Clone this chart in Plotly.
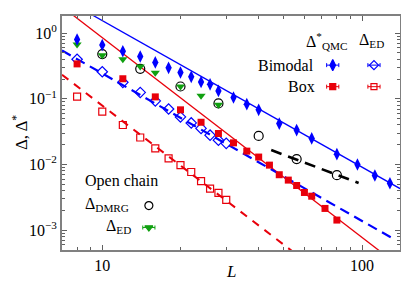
import numpy as np
import plotly.graph_objects as go

# ---------------- data ----------------
L_bim_qmc = [8, 10, 12, 14, 16, 18, 20, 22, 24, 26, 28, 32, 36, 40, 48, 56, 64, 80, 96, 112, 128]
D_bim_qmc = [0.80, 0.66, 0.53, 0.44, 0.358, 0.296, 0.252, 0.216, 0.18, 0.166, 0.132, 0.105,
             0.083, 0.068, 0.042, 0.0334, 0.025, 0.0144, 0.010, 0.0068, 0.0052]

L_bim_ed = [8, 10, 12, 14, 16, 18, 20, 22, 24, 26, 28, 30]
D_bim_ed = [0.40, 0.258, 0.178, 0.125, 0.093, 0.070, 0.053, 0.043, 0.0355, 0.028, 0.0235, 0.021]

L_box_qmc = [8, 12, 16, 20, 24, 28, 32, 36, 40, 44, 48, 52, 56, 60, 64, 72, 80]
D_box_qmc = [0.34, 0.202, 0.107, 0.068, 0.044, 0.0297, 0.0214, 0.016, 0.013, 0.0098, 0.0070,
             0.0058, 0.0048, 0.00376, 0.0033, 0.00215, 0.00143]

L_box_ed = [8, 10, 12, 14, 16, 18, 20, 22, 24, 26, 28, 30]
D_box_ed = [0.108, 0.064, 0.040, 0.0258, 0.0176, 0.0124, 0.0098, 0.0077, 0.0056, 0.0043, 0.0037, 0.0029]

L_dmrg = [10, 14, 20, 28, 40, 56, 80]
D_dmrg = [0.48, 0.286, 0.154, 0.085, 0.0273, 0.0121, 0.0069]

L_open_ed = [8, 10, 12, 14, 16, 20, 24, 28]
D_open_ed = [0.67, 0.46, 0.40, 0.31, 0.25, 0.154, 0.111, 0.081]

# power-law fits  Delta = A * L^(-b), drawn over [Lmin, Lmax]
fit_bim_qmc = dict(A=263.0, b=2.23, Lmin=7, Lmax=140)
fit_box_qmc = dict(A=935.0, b=3.04, Lmin=7, Lmax=140)
fit_bim_ed = dict(A=42.8, b=2.245, Lmin=7, Lmax=130)
fit_box_ed = dict(A=84.5, b=3.03, Lmin=7, Lmax=140)
fit_dmrg = dict(A=4.78, b=1.49, Lmin=44.7, Lmax=97)

y_tickvals = [1, 0.1, 0.01, 0.001]
y_ticktext = ["10<sup>0</sup>", "10<sup>−1</sup>", "10<sup>−2</sup>", "10<sup>−3</sup>"]
x_tickvals = [10, 100]
x_ticktext = ["10", "100"]

BLUE = "#0000ff"
RED = "#e8000b"
GREEN = "#10a010"
FONT = "Liberation Serif"
FS = 16

fig = go.Figure()


def fit_line(p, color, dash, width):
    Ls = np.logspace(np.log10(p["Lmin"]), np.log10(p["Lmax"]), 60)
    fig.add_trace(go.Scatter(x=Ls, y=p["A"] * Ls ** (-p["b"]), mode="lines",
                             line=dict(color=color, dash=dash, width=width),
                             showlegend=False, hoverinfo="skip"))


fit_line(fit_bim_qmc, BLUE, "solid", 1.3)
fit_line(fit_box_qmc, RED, "solid", 1.3)
fit_line(fit_bim_ed, BLUE, "10px,6px", 2.2)
fit_line(fit_box_ed, RED, "8px,7px", 2.0)
fit_line(fit_dmrg, "black", "11px,7px", 2.6)

mk = dict(mode="markers", showlegend=False)
fig.add_trace(go.Scatter(x=L_dmrg, y=D_dmrg, marker=dict(symbol="circle-open", size=9,
                         color="black", line=dict(width=1.2)), **mk))
fig.add_trace(go.Scatter(x=L_open_ed, y=D_open_ed, marker=dict(symbol="triangle-down", size=8,
                         color=GREEN, line=dict(width=0)), **mk))
fig.add_trace(go.Scatter(x=L_box_ed, y=D_box_ed, marker=dict(symbol="square-open", size=7,
                         color=RED, line=dict(width=1.2)), **mk))
fig.add_trace(go.Scatter(x=L_bim_ed, y=D_bim_ed, marker=dict(symbol="diamond-open", size=8,
                         color=BLUE, line=dict(width=1.2)), **mk))
fig.add_trace(go.Scatter(x=L_box_qmc, y=D_box_qmc, marker=dict(symbol="square", size=7,
                         color=RED, line=dict(width=0)), **mk))
fig.add_trace(go.Scatter(x=L_bim_qmc, y=D_bim_qmc, marker=dict(symbol="diamond-tall", size=9,
                         color=BLUE, line=dict(width=0)), **mk))

# ---- legend glyphs on an overlay axis (fractions of the plot area) ----
def leg(x, y, symbol, color, size, err=True):
    fig.add_trace(go.Scatter(
        x=[x], y=[y], xaxis="x2", yaxis="y2", mode="markers", showlegend=False,
        marker=dict(symbol=symbol, size=size, color=color, line=dict(width=1.2, color=color)),
        error_x=dict(type="constant", value=0.018, color=color, thickness=1, width=2) if err else None,
        hoverinfo="skip"))


leg(0.801, 0.790, "diamond-tall", BLUE, 8)
leg(0.923, 0.790, "diamond-open", BLUE, 7)
leg(0.801, 0.698, "square", RED, 6)
leg(0.923, 0.698, "square-open", RED, 6)
leg(0.257, 0.190, "circle-open", "black", 8, err=False)
leg(0.257, 0.096, "triangle-down", GREEN, 7)

axis_common = dict(type="log", showline=True, linewidth=2, linecolor="#808080", mirror="allticks",
                   ticks="inside", ticklen=5, tickwidth=1, tickcolor="#606060", showgrid=False,
                   zeroline=False, automargin=False,
                   tickfont=dict(family=FONT, size=FS, color="black"),
                   minor=dict(ticks="inside", ticklen=3, tickwidth=1, tickcolor="#606060",
                              dtick="D1", showgrid=False))

# the page body adds an 8px offset, so the figure is drawn 8px smaller
fig.update_layout(
    width=401, height=278, margin=dict(l=54, r=9, t=8, b=36, autoexpand=False),
    paper_bgcolor="white", plot_bgcolor="white",
    font=dict(family=FONT, size=FS, color="black"),
    xaxis=dict(range=[0.845, 2.146], tickmode="array", tickvals=x_tickvals,
               ticktext=x_ticktext, **axis_common),
    yaxis=dict(range=[-3.30, 0.26], tickmode="array", tickvals=y_tickvals,
               ticktext=y_ticktext, **axis_common),
    xaxis2=dict(overlaying="x", range=[0, 1], visible=False, anchor="y2", automargin=False),
    yaxis2=dict(overlaying="y", range=[0, 1], visible=False, anchor="x2", automargin=False),
)

def txt(x, y, s, xanchor="left", size=FS, **kw):
    fig.add_annotation(x=x, y=y, xref="paper", yref="paper", text=s, showarrow=False,
                       xanchor=xanchor, yanchor="middle", font=dict(family=FONT, size=size, color="black"), **kw)


# upper-right legend
txt(0.784, 0.895, "Δ<sup>*</sup><sub>QMC</sub>", xanchor="center")
txt(0.915, 0.895, "Δ<sub>ED</sub>", xanchor="center")
txt(0.751, 0.790, "Bimodal", xanchor="right")
txt(0.753, 0.698, "Box", xanchor="right")
# lower-left legend
txt(0.062, 0.295, "Open chain")
txt(0.062, 0.195, "Δ<sub>DMRG</sub>")
txt(0.125, 0.100, "Δ<sub>ED</sub>")
# axis titles
txt(0.500, -0.092, "<i>L</i>", xanchor="center", size=17)
fig.add_annotation(x=-0.124, y=0.5, xref="paper", yref="paper", text="Δ, Δ<sup>*</sup>",
                   showarrow=False, textangle=-90, xanchor="center", yanchor="middle",
                   font=dict(family=FONT, size=17, color="black"))

fig.write_html("out.html")
